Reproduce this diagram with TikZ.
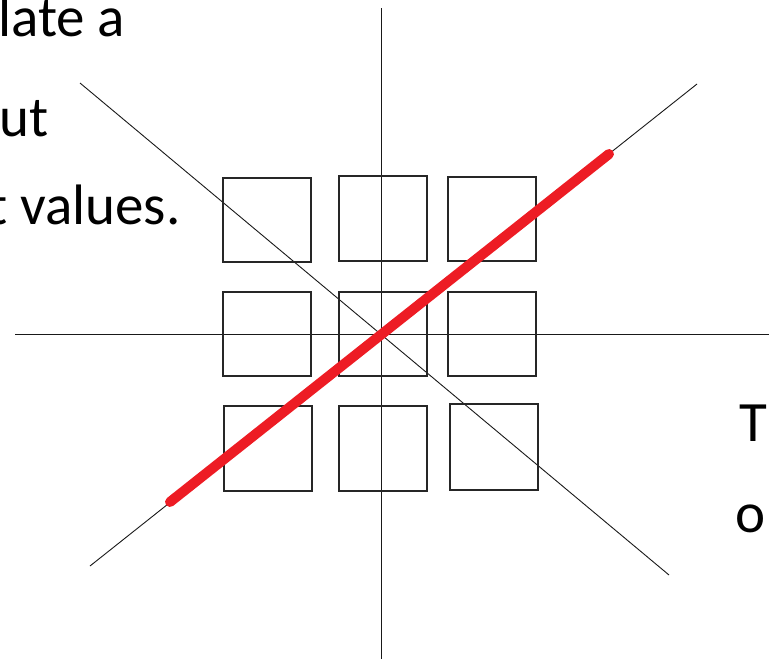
\documentclass[tikz,border=0pt]{standalone}
\usepackage{fontspec}
\setmainfont{Carlito}
\definecolor{paintred}{RGB}{237,28,36}
\begin{document}
\begin{tikzpicture}[x=1pt,y=-1pt]
\useasboundingbox (0,0) rectangle (769,659);
\clip (0,0) rectangle (769,659);
\tikzset{
txt/.style={inner sep=0pt,anchor=base west,font=\fontsize{57}{68}\selectfont},
cell/.style={line width=1.7pt,draw=black!85}
}
\node[txt] (la) at (-2,36) {late a};
\node[txt] (ut) at (-1,136) {ut};
\node[txt] (va) at (-12,224) {t values.};
\node[txt] (tt) at (739,441) {T};
\node[txt] (oo) at (735,532) {o};

% axes
\draw[line width=1.4pt,black!90] (381.7,8) -- (381.7,659);
\draw[line width=1.4pt,black!90] (15,334.3) -- (769,334.3);
\draw[line width=0.9pt,black!90] (80,83) -- (669,575);
\draw[line width=0.9pt,black!90] (90,566) -- (697,84);

\foreach \xa/\ya/\xb/\yb in {223/177.7/311/262.3, 338.7/176/426.7/260.7, 448.3/176.7/535.7/261,
223/292/311/376.3, 339/292/427/376.3, 448/292/536/376.3,
224.3/406/312.3/491, 339/406/427/491, 449.7/404.3/537.7/489.7}
{
\draw[cell] (\xa,\ya) rectangle (\xb,\yb);
}

\draw[paintred,line width=10pt,line cap=round] (170,502) -- (609,154);
\end{tikzpicture}
\end{document}
